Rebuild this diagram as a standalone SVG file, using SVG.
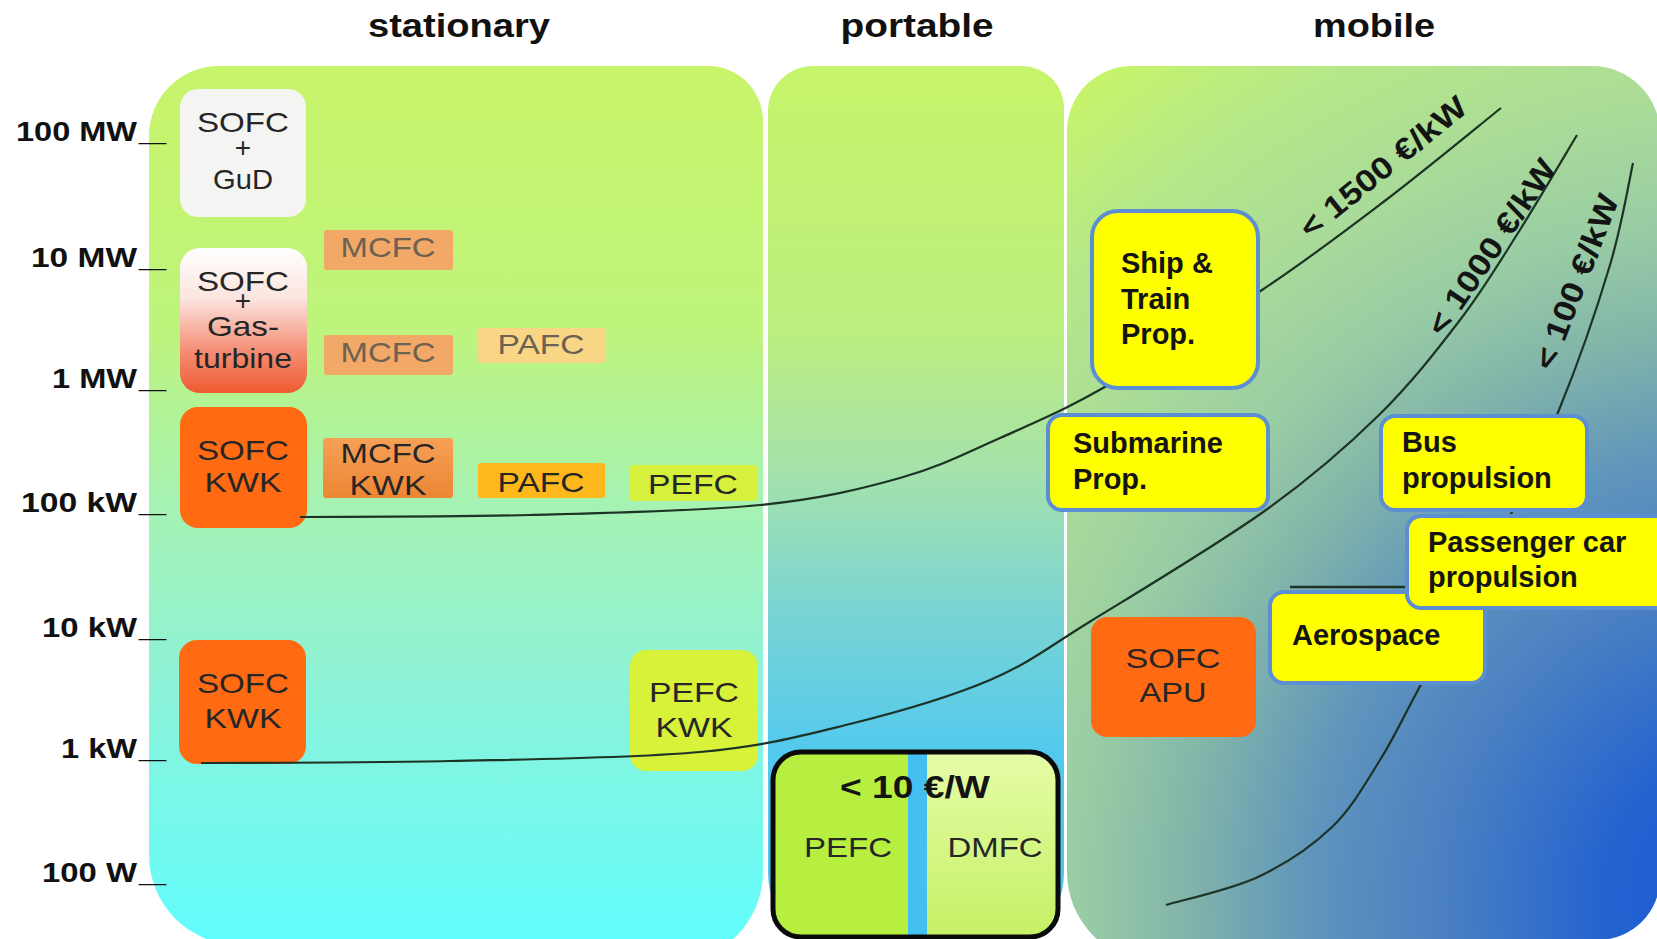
<svg xmlns="http://www.w3.org/2000/svg" width="1657" height="939" viewBox="0 0 1657 939">
<style>
.ti{font-family:"Liberation Sans",Arial,sans-serif;font-weight:bold;font-size:34px;fill:#111;text-anchor:middle}
.ax{font-family:"Liberation Sans",Arial,sans-serif;font-weight:bold;font-size:28px;fill:#111;text-anchor:end}
.tk{font-family:"Liberation Sans",Arial,sans-serif;font-weight:bold;font-size:28px;fill:#111}
.st{font-family:"Liberation Sans",Arial,sans-serif;font-size:28px;fill:#262626;text-anchor:middle}
.fd{fill:#6c6152}
.mb{font-family:"Liberation Sans",Arial,sans-serif;font-weight:bold;font-size:29px;fill:#141414}
.cl{font-family:"Liberation Sans",Arial,sans-serif;font-weight:bold;font-size:31px;fill:#141414}
.yb{fill:#ffff00;stroke:#5b8fd2;stroke-width:4}
.cv{fill:none;stroke:#1c3326;stroke-width:2.2}
.or{fill:#ff6a12}
</style>
<defs>
<linearGradient id="gSt" x1="0" y1="66" x2="0" y2="939" gradientUnits="userSpaceOnUse">
<stop offset="0" stop-color="#c8f46a"/><stop offset="0.3" stop-color="#bef47c"/><stop offset="0.5" stop-color="#a6f2b2"/><stop offset="0.7" stop-color="#8ef2d6"/><stop offset="1" stop-color="#62fdfd"/>
</linearGradient>
<linearGradient id="gPo" x1="0" y1="66" x2="0" y2="939" gradientUnits="userSpaceOnUse">
<stop offset="0" stop-color="#c6f46a"/><stop offset="0.3" stop-color="#bcee7e"/><stop offset="0.46" stop-color="#a6e2aa"/><stop offset="0.63" stop-color="#78d4d4"/><stop offset="0.8" stop-color="#50c8f0"/><stop offset="1" stop-color="#46c4f2"/>
</linearGradient>
<radialGradient id="gMo" cx="1760" cy="900" r="1060" gradientUnits="userSpaceOnUse">
<stop offset="0" stop-color="#1a58d4"/><stop offset="0.14" stop-color="#2262d0"/><stop offset="0.3" stop-color="#4a80c2"/><stop offset="0.42" stop-color="#5e94bc"/><stop offset="0.54" stop-color="#82b4aa"/><stop offset="0.64" stop-color="#98cca4"/><stop offset="0.76" stop-color="#aadc98"/><stop offset="0.88" stop-color="#b6e888"/><stop offset="1" stop-color="#c6f46a"/>
</radialGradient>
<linearGradient id="gGas" x1="0" y1="0" x2="0" y2="1">
<stop offset="0" stop-color="#ffffff"/><stop offset="0.35" stop-color="#fbe4de"/><stop offset="0.7" stop-color="#f49078"/><stop offset="1" stop-color="#f05a30"/>
</linearGradient>
<linearGradient id="gMk" x1="0" y1="0" x2="0" y2="1">
<stop offset="0" stop-color="#f6a056"/><stop offset="1" stop-color="#ec8634"/>
</linearGradient>
<linearGradient id="gDm" x1="0" y1="0" x2="0" y2="1">
<stop offset="0" stop-color="#e6fca8"/><stop offset="1" stop-color="#c6f064"/>
</linearGradient>
<clipPath id="cPf"><rect x="773" y="752" width="285" height="185" rx="28"/></clipPath>
</defs>
<rect width="1657" height="939" fill="#ffffff"/>

<g id="panels">
<path d="M149,136 A70,70 0 0 1 219,66 L708,66 A55,55 0 0 1 763,121 L763,872 A90,90 0 0 1 673,962 L239,945 A90,90 0 0 1 149,855 Z" fill="url(#gSt)"/>
<path d="M768,111 A45,45 0 0 1 813,66 L1022,66 A42,42 0 0 1 1064,108 L1064,872 A90,90 0 0 1 974,962 L858,962 A90,90 0 0 1 768,872 Z" fill="url(#gPo)"/>
<path d="M1067,131 A65,65 0 0 1 1132,66 L1592,66 A68,68 0 0 1 1660,134 L1660,878 A62,62 0 0 1 1598,940 L1157,962 A90,90 0 0 1 1067,872 Z" fill="url(#gMo)"/>
</g>

<g id="titles">
<text class="ti" x="459" y="37" textLength="182" lengthAdjust="spacingAndGlyphs">stationary</text>
<text class="ti" x="917" y="37" textLength="153" lengthAdjust="spacingAndGlyphs">portable</text>
<text class="ti" x="1374" y="37" textLength="122" lengthAdjust="spacingAndGlyphs">mobile</text>
</g>

<g id="axis">
<text class="ax" x="137" y="141" textLength="121" lengthAdjust="spacingAndGlyphs">100 MW</text>
<text class="tk" x="139" y="141" textLength="27" lengthAdjust="spacingAndGlyphs">_</text>
<text class="ax" x="137" y="267" textLength="106" lengthAdjust="spacingAndGlyphs">10 MW</text>
<text class="tk" x="139" y="267" textLength="27" lengthAdjust="spacingAndGlyphs">_</text>
<text class="ax" x="137" y="388" textLength="85" lengthAdjust="spacingAndGlyphs">1 MW</text>
<text class="tk" x="139" y="388" textLength="27" lengthAdjust="spacingAndGlyphs">_</text>
<text class="ax" x="137" y="512" textLength="116" lengthAdjust="spacingAndGlyphs">100 kW</text>
<text class="tk" x="139" y="512" textLength="27" lengthAdjust="spacingAndGlyphs">_</text>
<text class="ax" x="137" y="637" textLength="95" lengthAdjust="spacingAndGlyphs">10 kW</text>
<text class="tk" x="139" y="637" textLength="27" lengthAdjust="spacingAndGlyphs">_</text>
<text class="ax" x="137" y="758" textLength="76" lengthAdjust="spacingAndGlyphs">1 kW</text>
<text class="tk" x="139" y="758" textLength="27" lengthAdjust="spacingAndGlyphs">_</text>
<text class="ax" x="137" y="882" textLength="95" lengthAdjust="spacingAndGlyphs">100 W</text>
<text class="tk" x="139" y="882" textLength="27" lengthAdjust="spacingAndGlyphs">_</text>
</g>

<g id="sofc-gud">
<rect x="180" y="89" width="126" height="128" rx="18" fill="#f4f4f2"/>
<text class="st" x="243" y="132" textLength="92" lengthAdjust="spacingAndGlyphs" fill="#383838">SOFC</text>
<text class="st" x="243" y="157" font-size="20" fill="#383838">+</text>
<text class="st" x="243" y="189" font-size="25" textLength="60" lengthAdjust="spacingAndGlyphs" fill="#383838">GuD</text>
</g>
<g id="mcfc-1">
<rect x="324" y="230" width="129" height="40" rx="3" fill="#f2a866"/>
<text class="st fd" x="388" y="257" textLength="95" lengthAdjust="spacingAndGlyphs">MCFC</text>
</g>
<g id="sofc-gasturbine">
<rect x="180" y="248" width="127" height="145" rx="20" fill="url(#gGas)"/>
<text class="st" x="243" y="291" textLength="92" lengthAdjust="spacingAndGlyphs">SOFC</text>
<text class="st" x="243" y="310" font-size="18">+</text>
<text class="st" x="243" y="336" textLength="72" lengthAdjust="spacingAndGlyphs">Gas-</text>
<text class="st" x="243" y="368" textLength="98" lengthAdjust="spacingAndGlyphs">turbine</text>
</g>
<g id="mcfc-2">
<rect x="324" y="335" width="129" height="40" rx="3" fill="#f2a866"/>
<text class="st fd" x="388" y="362" textLength="95" lengthAdjust="spacingAndGlyphs">MCFC</text>
</g>
<g id="pafc-1">
<rect x="478" y="328" width="127" height="35" rx="3" fill="#f9d686"/>
<text class="st fd" x="541" y="354" textLength="87" lengthAdjust="spacingAndGlyphs">PAFC</text>
</g>
<g id="sofc-kwk-1">
<rect class="or" x="180" y="407" width="127" height="121" rx="18"/>
<text class="st" x="243" y="460" textLength="92" lengthAdjust="spacingAndGlyphs" fill="#3a1a0c">SOFC</text>
<text class="st" x="243" y="492" textLength="77" lengthAdjust="spacingAndGlyphs" fill="#3a1a0c">KWK</text>
</g>
<g id="mcfc-kwk">
<rect x="323" y="438" width="130" height="60" rx="3" fill="url(#gMk)"/>
<text class="st" x="388" y="463" textLength="95" lengthAdjust="spacingAndGlyphs">MCFC</text>
<text class="st" x="388" y="495" textLength="77" lengthAdjust="spacingAndGlyphs">KWK</text>
</g>
<g id="pafc-2">
<rect x="478" y="463" width="127" height="35" rx="3" fill="#ffb81c"/>
<text class="st" x="541" y="492" textLength="87" lengthAdjust="spacingAndGlyphs">PAFC</text>
</g>
<g id="pefc-1">
<rect x="630" y="465" width="127" height="36" rx="3" fill="#d6f03c"/>
<text class="st" x="693" y="494" textLength="90" lengthAdjust="spacingAndGlyphs">PEFC</text>
</g>
<g id="sofc-kwk-2">
<rect class="or" x="179" y="640" width="127" height="124" rx="18"/>
<text class="st" x="243" y="693" textLength="92" lengthAdjust="spacingAndGlyphs" fill="#3a1a0c">SOFC</text>
<text class="st" x="243" y="728" textLength="77" lengthAdjust="spacingAndGlyphs" fill="#3a1a0c">KWK</text>
</g>
<g id="pefc-kwk">
<rect x="630" y="650" width="128" height="121" rx="16" fill="#d8f23a"/>
<text class="st" x="694" y="702" textLength="90" lengthAdjust="spacingAndGlyphs">PEFC</text>
<text class="st" x="694" y="737" textLength="77" lengthAdjust="spacingAndGlyphs">KWK</text>
</g>

<g id="portable-box">
<g clip-path="url(#cPf)">
<rect x="773" y="752" width="135" height="185" fill="#b6ef40"/>
<rect x="908" y="752" width="19" height="185" fill="#44c0f0"/>
<rect x="927" y="752" width="131" height="185" fill="url(#gDm)"/>
</g>
<rect x="773" y="752" width="285" height="185" rx="28" fill="none" stroke="#0a0a0a" stroke-width="5"/>
<text class="cl" x="915" y="798" font-size="32" text-anchor="middle" textLength="150" lengthAdjust="spacingAndGlyphs">&lt; 10 €/W</text>
<text class="st" x="848" y="857" font-size="30" textLength="88" lengthAdjust="spacingAndGlyphs">PEFC</text>
<text class="st" x="995" y="857" font-size="30" textLength="95" lengthAdjust="spacingAndGlyphs">DMFC</text>
</g>

<g id="connectors">
<path class="cv" d="M300,517 C338.3,516.7 453.3,517 530,515 C606.7,513 698.3,511.2 760,505 C821.7,498.8 860,489.2 900,478 C940,466.8 966.2,453 1000,438 C1033.8,423 1059.3,412.7 1103,388 C1146.7,363.3 1214.8,321.3 1262,290 C1309.2,258.7 1346.2,230.3 1386,200 C1425.8,169.7 1481.8,123.3 1501,108"/>
<path class="cv" d="M201,763 C242.5,762.7 366.8,762.8 450,761 C533.2,759.2 633.3,758.2 700,752 C766.7,745.8 801.7,736 850,724 C898.3,712 949.8,697.2 990,680 C1030.2,662.8 1045,649.3 1091,621 C1137,592.7 1218,544.3 1266,510 C1314,475.7 1346.7,446.7 1379,415 C1411.3,383.3 1436.8,350.3 1460,320 C1483.2,289.7 1498.5,263.8 1518,233 C1537.5,202.2 1567.2,151.3 1577,135"/>
<path class="cv" d="M1166,905 C1181.3,900.3 1230.3,890 1258,877 C1285.7,864 1311.7,846.5 1332,827 C1352.3,807.5 1365.7,782.8 1380,760 C1394.3,737.2 1399,725.3 1418,690 C1437,654.7 1470.5,594.7 1494,548 C1517.5,501.3 1539.7,457.2 1559,410 C1578.3,362.8 1597.7,306.2 1610,265 C1622.3,223.8 1629.2,180 1633,163"/>
<line x1="1290" y1="587" x2="1408" y2="587" stroke="#1c3326" stroke-width="2.5"/>
<text class="cl" transform="translate(1310,240) rotate(-39)" textLength="205" lengthAdjust="spacingAndGlyphs">&lt; 1500 €/kW</text>
<text class="cl" transform="translate(1443,338) rotate(-56)" textLength="205" lengthAdjust="spacingAndGlyphs">&lt; 1000 €/kW</text>
<text class="cl" transform="translate(1553,372) rotate(-69)" textLength="185" lengthAdjust="spacingAndGlyphs">&lt; 100 €/kW</text>
</g>

<g id="ship-train">
<rect class="yb" x="1092" y="211" width="166" height="177" rx="26"/>
<text class="mb" x="1121" y="273">Ship &amp;</text>
<text class="mb" x="1121" y="309">Train</text>
<text class="mb" x="1121" y="344">Prop.</text>
</g>
<g id="submarine">
<rect class="yb" x="1048" y="415" width="220" height="95" rx="14"/>
<text class="mb" x="1073" y="453">Submarine</text>
<text class="mb" x="1073" y="489">Prop.</text>
</g>
<g id="bus">
<rect class="yb" x="1381" y="416" width="206" height="94" rx="14"/>
<text class="mb" x="1402" y="452">Bus</text>
<text class="mb" x="1402" y="488">propulsion</text>
</g>
<g id="aerospace">
<rect class="yb" x="1270" y="592" width="215" height="91" rx="14"/>
<text class="mb" x="1292" y="645">Aerospace</text>
</g>
<g id="passenger-car">
<rect class="yb" x="1407" y="516" width="270" height="92" rx="14"/>
<text class="mb" x="1428" y="552">Passenger car</text>
<text class="mb" x="1428" y="587">propulsion</text>
</g>
<g id="sofc-apu">
<rect class="or" x="1091" y="617" width="165" height="120" rx="16"/>
<text class="st" x="1173" y="668" textLength="95" lengthAdjust="spacingAndGlyphs" fill="#5a1a10">SOFC</text>
<text class="st" x="1173" y="702" textLength="67" lengthAdjust="spacingAndGlyphs" fill="#5a1a10">APU</text>
</g>
</svg>
